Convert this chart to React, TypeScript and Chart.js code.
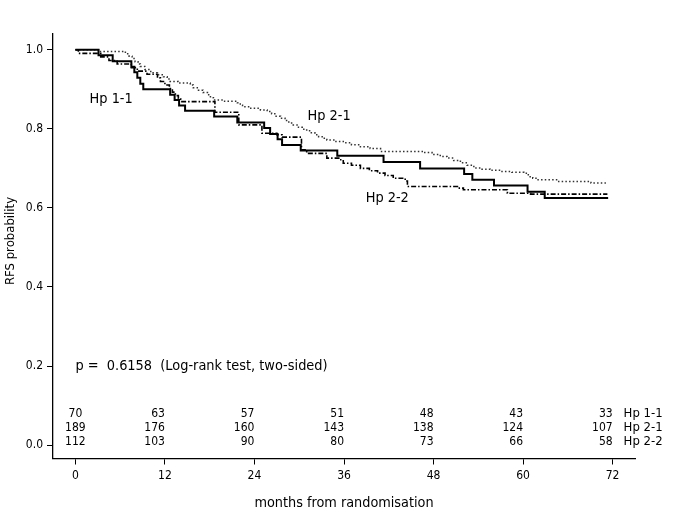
import React, { useEffect, useRef } from "react";
import { Chart, registerables } from "chart.js";

Chart.register(...registerables);

const FONT = "'DejaVu Sans Condensed', 'DejaVu Sans', sans-serif";

// Axis ticks
const monthTicks = [0, 12, 24, 36, 48, 60, 72];
const probTicks = [0, 0.2, 0.4, 0.6, 0.8, 1.0];

// Hp 1-1 (solid) – Kaplan–Meier steps: time (months) and survival after the step
const hp11Months = [0, 3.1, 5.0, 7.5, 7.9, 8.3, 8.7, 9.1, 12.7, 13.3, 13.9, 14.7, 18.6, 21.7, 25.3, 26.1, 27.1, 27.7, 30.2, 35.1, 41.3, 46.2, 52.1, 53.2, 56.1, 60.6, 62.9, 71.4];
const hp11Surv = [1.0, 0.986, 0.971, 0.957, 0.943, 0.929, 0.914, 0.9, 0.886, 0.873, 0.859, 0.846, 0.831, 0.816, 0.802, 0.787, 0.774, 0.759, 0.745, 0.732, 0.716, 0.7, 0.686, 0.671, 0.657, 0.641, 0.625, 0.625];

// Hp 2-1 (dotted)
const hp21Months = [0, 3.1, 6.7, 7.2, 7.6, 8.0, 8.4, 8.7, 9.3, 10.1, 11.0, 11.8, 12.3, 12.7, 13.8, 15.4, 15.8, 16.5, 17.1, 17.7, 18.1, 18.5, 20.0, 21.7, 22.1, 22.4, 23.5, 24.8, 25.7, 26.3, 26.9, 27.5, 28.1, 28.6, 29.2, 29.9, 30.4, 31.0, 31.5, 32.1, 32.6, 33.2, 33.7, 34.8, 35.9, 37.0, 38.2, 39.5, 40.9, 46.7, 47.8, 48.9, 49.8, 50.7, 51.6, 52.5, 53.4, 54.5, 55.6, 57.0, 58.5, 60.1, 60.7, 61.3, 61.9, 64.6, 69.1, 71.1];
const hp21Surv = [1.0, 0.996, 0.99, 0.984, 0.978, 0.97, 0.964, 0.958, 0.95, 0.942, 0.937, 0.932, 0.926, 0.92, 0.916, 0.911, 0.904, 0.898, 0.892, 0.886, 0.879, 0.873, 0.87, 0.866, 0.86, 0.856, 0.852, 0.848, 0.844, 0.838, 0.832, 0.827, 0.821, 0.815, 0.81, 0.804, 0.799, 0.795, 0.79, 0.785, 0.78, 0.776, 0.772, 0.768, 0.765, 0.76, 0.755, 0.75, 0.743, 0.74, 0.735, 0.73, 0.726, 0.72, 0.714, 0.708, 0.701, 0.698, 0.695, 0.692, 0.69, 0.688, 0.679, 0.675, 0.671, 0.667, 0.663, 0.663];

// Hp 2-2 (dash-dot)
const hp22Months = [0, 0.4, 3.4, 4.5, 5.6, 7.5, 8.3, 9.6, 11.0, 11.4, 12.0, 12.6, 13.0, 13.4, 13.8, 14.1, 18.7, 21.9, 25.0, 27.0, 27.7, 30.3, 31.0, 33.7, 35.3, 35.9, 37.0, 38.2, 39.4, 40.5, 41.5, 42.6, 44.2, 44.5, 51.2, 52.0, 57.9, 61.0, 71.3];
const hp22Surv = [1.0, 0.991, 0.982, 0.973, 0.964, 0.955, 0.946, 0.938, 0.929, 0.92, 0.911, 0.902, 0.893, 0.884, 0.876, 0.869, 0.842, 0.81, 0.789, 0.785, 0.779, 0.747, 0.738, 0.726, 0.722, 0.713, 0.708, 0.7, 0.694, 0.688, 0.682, 0.675, 0.668, 0.654, 0.65, 0.646, 0.637, 0.635, 0.635];

// Number at risk table
const groupNames = ["Hp 1-1", "Hp 2-1", "Hp 2-2"];
const atRisk11 = [70, 63, 57, 51, 48, 43, 33];
const atRisk21 = [189, 176, 160, 143, 138, 124, 107];
const atRisk22 = [112, 103, 90, 80, 73, 66, 58];

const pValueText = "p =  0.6158  (Log-rank test, two-sided)";
const yTitle = "RFS probability";
const xTitle = "months from randomisation";

const toPoints = (xs: number[], ys: number[]) => xs.map((x, i) => ({ x, y: ys[i] }));

const annotationPlugin = {
  id: "kmAnnotations",
  afterDraw(chart: any) {
    const ctx = chart.ctx;
    const xs = chart.scales.x;
    const ys = chart.scales.y;
    ctx.save();
    ctx.fillStyle = "#000";
    ctx.textBaseline = "middle";

    // curve labels
    ctx.font = `14.4px ${FONT}`;
    ctx.textAlign = "left";
    ctx.fillText(groupNames[0], xs.getPixelForValue(1.9), ys.getPixelForValue(0.876));
    ctx.fillText(groupNames[1], xs.getPixelForValue(31.1), ys.getPixelForValue(0.833));
    ctx.fillText(groupNames[2], xs.getPixelForValue(38.9), ys.getPixelForValue(0.625));

    // p value
    ctx.fillText(pValueText, xs.getPixelForValue(0), ys.getPixelForValue(0.2));

    // number at risk
    const rows = [atRisk11, atRisk21, atRisk22];
    const base = ys.getPixelForValue(0);
    const offs = [-31, -17, -3];
    rows.forEach((row, r) => {
      const y = base + offs[r];
      ctx.font = `12px ${FONT}`;
      row.forEach((n, i) => {
        const x = xs.getPixelForValue(monthTicks[i]);
        ctx.textAlign = i === 0 ? "center" : "right";
        ctx.fillText(String(n), x, y);
      });
      ctx.font = `13px ${FONT}`;
      ctx.textAlign = "left";
      ctx.fillText(groupNames[r], xs.getPixelForValue(72) + 11, y);
    });

    // y title
    ctx.font = `13px ${FONT}`;
    ctx.translate(11, 241);
    ctx.rotate(-Math.PI / 2);
    ctx.textAlign = "center";
    ctx.fillText(yTitle, 0, 0);
    ctx.restore();
  },
};

export default function App() {
  const ref = useRef<HTMLCanvasElement | null>(null);
  useEffect(() => {
    if (!ref.current) return;
    const chart = new Chart(ref.current, {
      type: "line",
      data: {
        datasets: [
          {
            label: groupNames[0],
            data: toPoints(hp11Months, hp11Surv),
            stepped: true,
            borderColor: "#000",
            borderWidth: 2,
            pointRadius: 0,
            fill: false,
          },
          {
            label: groupNames[1],
            data: toPoints(hp21Months, hp21Surv),
            stepped: true,
            borderColor: "#333",
            borderWidth: 1.5,
            borderDash: [1.5, 2.2],
            pointRadius: 0,
            fill: false,
          },
          {
            label: groupNames[2],
            data: toPoints(hp22Months, hp22Surv),
            stepped: true,
            borderColor: "#000",
            borderWidth: 1.6,
            borderDash: [5, 2, 1.5, 2],
            pointRadius: 0,
            fill: false,
          },
        ],
      },
      options: {
        responsive: false,
        animation: false,
        layout: { padding: { left: 0, top: 34, right: 50, bottom: 0 } },
        plugins: { legend: { display: false }, tooltip: { enabled: false } },
        scales: {
          x: {
            type: "linear",
            min: -3,
            max: 75,
            afterBuildTicks: (s: any) => {
              s.ticks = monthTicks.map((v) => ({ value: v }));
            },
            afterFit: (s: any) => {
              s.height = 73.5;
            },
            grid: { display: true, drawOnChartArea: false, drawTicks: true, tickLength: 6, color: "#000", tickColor: "#000" },
            border: { display: true, color: "#000", width: 1.3 },
            ticks: { color: "#000", font: { family: FONT, size: 12 }, padding: 4, maxRotation: 0, autoSkip: false },
            title: { display: true, text: xTitle, color: "#000", font: { family: FONT, size: 14.3 }, padding: { top: 0, bottom: 20 } },
          },
          y: {
            type: "linear",
            min: -0.034,
            max: 1.04,
            afterBuildTicks: (s: any) => {
              s.ticks = probTicks.map((v) => ({ value: v }));
            },
            afterFit: (s: any) => {
              s.width = 53;
            },
            grid: { display: true, drawOnChartArea: false, drawTicks: true, tickLength: 6, color: "#000", tickColor: "#000" },
            border: { display: true, color: "#000", width: 1.3 },
            ticks: {
              color: "#000",
              font: { family: FONT, size: 12 },
              padding: 4,
              autoSkip: false,
              callback: (v: any) => Number(v).toFixed(1),
            },
          },
        },
      },
      plugins: [annotationPlugin],
    });
    return () => chart.destroy();
  }, []);

  return (
    <div style={{ position: "absolute", left: 0, top: 0, width: 685, height: 532, background: "#fff" }}>
      <canvas ref={ref} width={685} height={532} style={{ display: "block" }} />
    </div>
  );
}
